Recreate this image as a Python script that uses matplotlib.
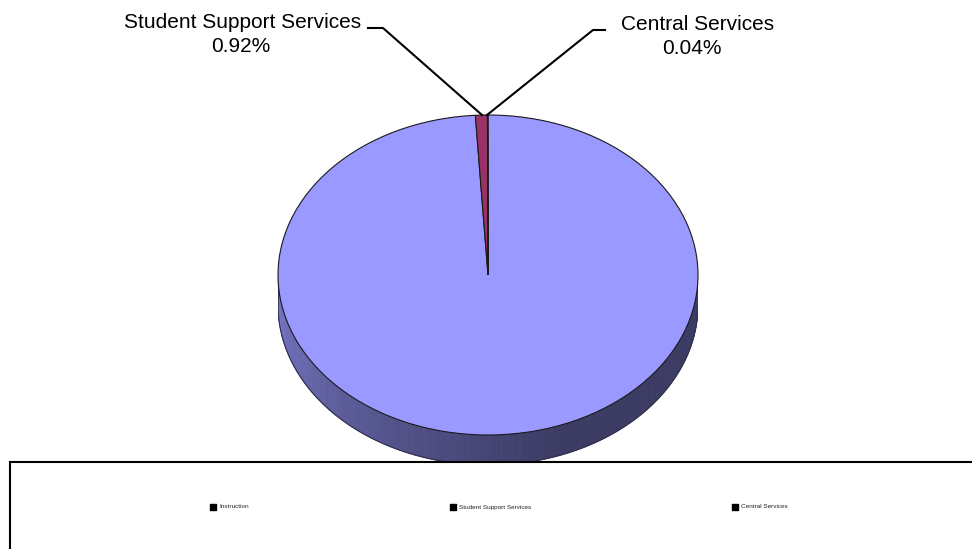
import numpy as np
import matplotlib
matplotlib.use('Agg')
import matplotlib.pyplot as plt
from matplotlib.patches import Rectangle, Polygon

plt.rcParams['font.family'] = ['Liberation Sans', 'DejaVu Sans']

# data
categories = ['Instruction', 'Student Support Services', 'Central Services']
shares = [99.04, 0.92, 0.04]
top_colors = ['#9999FF', '#993366', '#FFFFCC']

fig = plt.figure(figsize=(9.72, 5.49), dpi=100)

# pie axes (top ellipse 420x320 px, side depth 30 px)
W, H = 972.0, 549.0
depth = 30.0 / 160.0
ax = fig.add_axes([278 / W, 1 - 465 / H, 420 / W, 350 / H])

# side of the 3D pie: front half, shaded left -> right
light = np.array([0.49, 0.49, 0.82])
dark = np.array([0.23, 0.23, 0.39])
th = np.linspace(np.pi, 2 * np.pi, 241)
for t0, t1 in zip(th[:-1], th[1:]):
    f = min(1.0, (0.5 * (t0 + t1) - np.pi) / (0.62 * np.pi))
    c = light + (dark - light) * f ** 0.8
    pts = [(np.cos(t0), np.sin(t0)), (np.cos(t1), np.sin(t1)),
           (np.cos(t1), np.sin(t1) - depth), (np.cos(t0), np.sin(t0) - depth)]
    ax.add_patch(Polygon(pts, closed=True, facecolor=c, edgecolor=c, lw=0.6, zorder=1))
ax.plot(np.cos(th), np.sin(th) - depth, color='#30304a', lw=0.8, zorder=2)
ax.plot([-1, -1], [0, -depth], color='#30304a', lw=0.6, zorder=2)
ax.plot([1, 1], [0, -depth], color='#30304a', lw=0.6, zorder=2)

wedges, _ = ax.pie(shares, colors=top_colors, startangle=90, counterclock=False,
                   wedgeprops=dict(edgecolor='#1a1a1a', linewidth=0.8))
for w in wedges:
    w.set_zorder(3)
ax.set_aspect('auto')
ax.set_xlim(-1, 1)
ax.set_ylim(-1 - depth, 1)
ax.axis('off')

# overlay in pixel coordinates for labels, leaders and legend box
ov = fig.add_axes([0, 0, 1, 1])
ov.set_xlim(0, W)
ov.set_ylim(H, 0)
ov.axis('off')

ov.text(243, 23, categories[1], ha='center', va='center', fontsize=15)
ov.text(241, 46, f'{shares[1]:.2f}%', ha='center', va='center', fontsize=15)
ov.text(698, 25, categories[2], ha='center', va='center', fontsize=15)
ov.text(692, 48, f'{shares[2]:.2f}%', ha='center', va='center', fontsize=15)
ov.plot([368, 383, 482], [28, 28, 115], color='black', lw=1.5)
ov.plot([605, 593, 487], [30, 30, 115], color='black', lw=1.5)

ov.add_patch(Rectangle((10, 462), 980, 100, facecolor='white', edgecolor='black',
                       lw=1.5, zorder=5))
legend_x = [213, 453, 735]
for x, name in zip(legend_x, categories):
    ov.scatter([x], [507], marker='s', s=22, color='black', zorder=6)
    ov.text(x + 6, 507, name, fontsize=4.6, color='#222222', va='center', ha='left', zorder=6)

fig.savefig('out.png', dpi=100)
